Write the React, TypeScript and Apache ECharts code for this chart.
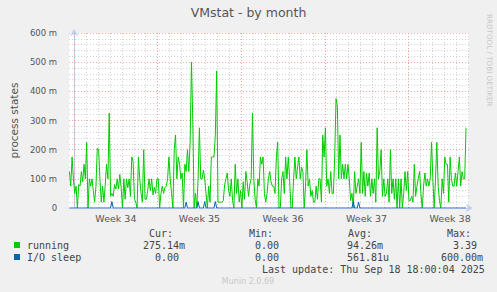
import React, { useEffect, useRef } from 'react';
import * as echarts from 'echarts';

const chartTitle = 'VMstat - by month';
const yAxisName = 'process states';
const weekLabels = ['Week 34', 'Week 35', 'Week 36', 'Week 37', 'Week 38'];
// hours relative to Monday 00:00 of week 34
const weekStartHours = [0, 168, 336, 504, 672];
const weekCenterHours = [84, 252, 420, 588, 756];
const dayStartHours = [
  0, 24, 48, 72, 96, 120, 144, 168, 192, 216, 240, 264, 288, 312, 336, 360, 384,
  408, 432, 456, 480, 504, 528, 552, 576, 600, 624, 648, 672, 696, 720, 744, 768, 792,
];
const axisMinHour = -10;
const axisMaxHour = 794;
const yTicks = [0, 100, 200, 300, 400, 500, 600];

const sampleStartHour = -28 / 3;
const sampleStepHours = 8 / 3;

// running (milli process states), sample by sample
const runningPart1 = [125, 75, 175, 100, 50, 75, 0, 80, 75, 125, 90, 150, 100, 225, 0, 100, 75, 100, 60, 20, 75, 205, 200, 100, 20, 75, 20, 80, 150, 100, 325, 40, 50, 40, 80, 65, 100, 65, 115, 70, 0, 100, 30, 100, 70, 100, 40, 175, 160, 30, 20, 0];
const runningPart2 = [175, 100, 50, 20, 200, 30, 30, 60, 100, 60, 100, 45, 70, 50, 100, 100, 0, 50, 75, 50, 70, 75, 100, 175, 100, 50, 0, 200, 250, 100, 175, 150, 100, 120, 0, 150, 125, 200, 125, 225, 500, 300, 0, 50, 0, 100, 275, 100, 100, 130, 100];
const runningPart3 = [50, 0, 75, 20, 175, 175, 175, 250, 470, 20, 20, 20, 20, 25, 80, 100, 120, 60, 40, 100, 25, 0, 150, 50, 100, 20, 60, 0, 90, 30, 125, 90, 40, 80, 100, 325, 100, 30, 0, 100, 75, 175, 150, 175, 50, 20, 50, 100, 125, 90, 75];
const runningPart4 = [75, 50, 175, 225, 0, 0, 100, 125, 50, 175, 100, 175, 100, 0, 0, 100, 175, 100, 140, 175, 100, 140, 125, 0, 75, 200, 75, 100, 40, 60, 20, 20, 75, 30, 100, 100, 20, 250, 175, 275, 75, 100, 50, 125, 50, 50, 175, 375, 350, 100, 250];
const runningPart5 = [100, 150, 100, 150, 100, 150, 100, 25, 50, 0, 125, 50, 75, 100, 50, 225, 50, 125, 40, 120, 75, 120, 40, 100, 50, 100, 20, 275, 100, 125, 200, 40, 100, 40, 50, 100, 20, 200, 50, 100, 30, 100, 0, 100, 0, 100, 0, 50, 125, 60, 125];
const runningPart6 = [25, 25, 40, 20, 150, 40, 75, 100, 125, 50, 0, 75, 120, 75, 100, 75, 100, 225, 100, 0, 100, 225, 75, 25, 0, 100, 50, 175, 150, 150, 20, 175, 100, 75, 75, 120, 75, 125, 175, 75, 125, 100, 100, 275];

const ioSleepSpikeHours = [76, 224, 248, 262, 284, 560, 572];
const ioSleepSpikeValues = [22, 20, 22, 22, 22, 22, 20];

const legendHeaders = ['Cur:', 'Min:', 'Avg:', 'Max:'];
const runningStats = ['275.14m', '0.00', '94.26m', '3.39'];
const ioSleepStats = ['0.00', '0.00', '561.81u', '600.00m'];
const lastUpdate = 'Last update: Thu Sep 18 18:00:04 2025';
const footer = 'Munin 2.0.69';
const sideText = 'RRDTOOL / TOBI OETIKER';

const GREEN = '#00cc00';
const BLUE = '#0066b3';
const MAJOR_GRID = '#f0a0a0';
const MINOR_GRID = '#d2d2d2';
const DOT = [1, 2];

export default function App() {
  const ref = useRef<HTMLDivElement>(null);
  useEffect(() => {
    if (!ref.current) return;
    const chart = echarts.init(ref.current, undefined, { renderer: 'svg' });
    const running = [
      ...runningPart1, ...runningPart2, ...runningPart3,
      ...runningPart4, ...runningPart5, ...runningPart6,
    ];
    const times = running.map((_, i) => sampleStartHour + i * sampleStepHours);
    const io = times.map(() => 0);
    ioSleepSpikeHours.forEach((h, k) => {
      let best = 0;
      times.forEach((t, i) => {
        if (Math.abs(t - h) < Math.abs(times[best] - h)) best = i;
      });
      io[best] = ioSleepSpikeValues[k];
    });
    const grayDays = dayStartHours.filter((d) => weekStartHours.indexOf(d) < 0);
    const mono = 'DejaVu Sans Mono';
    const sans = 'DejaVu Sans';
    const textColor = '#444';
    const statLeftRunning = [143, 255, 347, 453];
    const statLeftIo = [155, 255, 347, 441];
    const headerLeft = [149, 249, 348, 447];
    const graphics: any[] = [];
    const monoText = (x: number, y: number, t: string) => ({ type: 'text', x, y, style: { text: t, fill: textColor, font: `10px "${mono}"`, textAlign: 'left', textVerticalAlign: 'middle' } });
    legendHeaders.forEach((t, i) => graphics.push(monoText(headerLeft[i], 233, t)));
    graphics.push({ type: 'rect', shape: { x: 14, y: 242, width: 6, height: 6 }, style: { fill: GREEN } });
    graphics.push({ type: 'rect', shape: { x: 14, y: 254, width: 6, height: 6 }, style: { fill: BLUE } });
    graphics.push(monoText(27, 245, 'running'));
    graphics.push(monoText(27, 257, 'I/O sleep'));
    runningStats.forEach((t, i) => graphics.push(monoText(statLeftRunning[i], 245, t)));
    ioSleepStats.forEach((t, i) => graphics.push(monoText(statLeftIo[i], 257, t)));
    graphics.push(monoText(262, 269, lastUpdate));
    graphics.push({ type: 'text', x: 248, y: 281, style: { text: footer, fill: '#c8c8c8', font: `8px "${sans}"`, textAlign: 'center', textVerticalAlign: 'middle' } });
    graphics.push({ type: 'text', x: 489, y: 14, rotation: -Math.PI / 2, style: { text: sideText, fill: '#c8c8c8', font: `7.2px "${sans}"`, textAlign: 'left', textVerticalAlign: 'middle' } });

    const vLines = (vals: number[], color: string) =>
      vals.map((v) => ({ xAxis: v, lineStyle: { color, type: DOT, width: 1, opacity: 1 } }));

    chart.setOption({
      animation: false,
      backgroundColor: '#f0f0f0',
      title: {
        text: chartTitle,
        left: 'center',
        top: 1,
        textStyle: { fontFamily: sans, fontSize: 12.5, fontWeight: 'normal', color: '#555' },
      },
      grid: { left: 67, right: 28, top: 33, bottom: 84, show: true, backgroundColor: '#ffffff', borderWidth: 0 },
      xAxis: {
        type: 'value', min: axisMinHour, max: axisMaxHour,
        axisLine: { show: true, lineStyle: { color: '#c4cbf0', width: 1 }, symbol: ['none', 'arrow'], symbolSize: [6, 7], symbolOffset: [0, 4] },
        axisTick: { show: false },
        axisLabel: {
          show: true, customValues: weekCenterHours, margin: 5,
          fontFamily: sans, fontSize: 9.5, color: '#555',
          formatter: (v: number) => weekLabels[weekCenterHours.indexOf(v)] ?? '',
        },
        splitLine: { show: false },
      },
      yAxis: {
        type: 'value', min: yTicks[0], max: yTicks[yTicks.length - 1], interval: 100,
        name: yAxisName, nameLocation: 'middle', nameGap: 50, nameRotate: 90,
        nameTextStyle: { fontFamily: sans, fontSize: 10.5, color: '#555' },
        axisLine: { show: true, lineStyle: { color: '#c4cbf0', width: 1 }, symbol: ['none', 'arrow'], symbolSize: [6, 7], symbolOffset: [0, 4] },
        axisTick: { show: false },
        axisLabel: {
          margin: 12, fontFamily: sans, fontSize: 8.5, color: '#555',
          formatter: (v: number) => (v === 0 ? '0' : `${v} m`),
        },
        splitLine: { show: true, lineStyle: { color: MAJOR_GRID, type: DOT, width: 1 } },
        minorTick: { show: false, splitNumber: 5 },
        minorSplitLine: { show: true, lineStyle: { color: MINOR_GRID, type: DOT, width: 1 } },
      },
      series: [
        {
          name: 'running', type: 'line', z: 3, showSymbol: false, symbol: 'none',
          lineStyle: { color: GREEN, width: 1 }, itemStyle: { color: GREEN },
          data: times.map((t, i) => [t, running[i]]),
          markLine: {
            silent: true, z: 1, symbol: ['none', 'none'], label: { show: false }, animation: false,
            data: [...vLines(grayDays, MINOR_GRID), ...vLines(weekStartHours, MAJOR_GRID)],
          },
        },
        {
          name: 'I/O sleep', type: 'line', z: 4, showSymbol: false, symbol: 'none',
          lineStyle: { color: BLUE, width: 1 }, itemStyle: { color: BLUE },
          data: times.map((t, i) => [t, io[i]]),
        },
      ],
      graphic: graphics,
    });
    return () => chart.dispose();
  }, []);
  return <div ref={ref} style={{ position: 'absolute', left: 0, top: 0, width: 497, height: 292 }} />;
}
